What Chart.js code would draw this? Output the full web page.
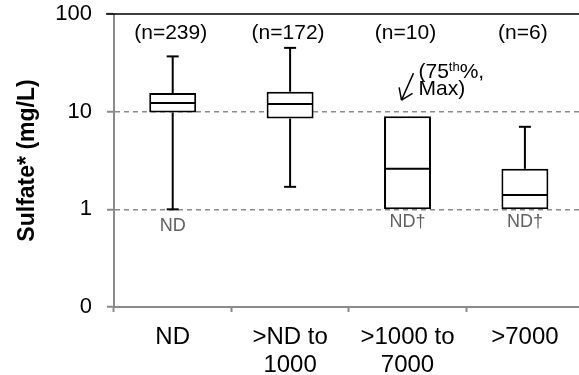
<!DOCTYPE html>
<html>
<head>
<meta charset="utf-8">
<script src="https://cdn.jsdelivr.net/npm/chart.js@4.4.1/dist/chart.umd.min.js"></script>
<style>
  html, body { margin: 0; padding: 0; background: #fff; overflow: hidden; }
</style>
</head>
<body>
<canvas id="sulfateChart" width="590" height="375"></canvas>
<script>
// Sulfate by methane group: box = 25th-75th percentile, whiskers = min/max
const categories = [["ND"], [">ND to", "1000"], [">1000 to", "7000"], [">7000"]];
const counts = [239, 172, 10, 6];
const mins = [1, 1.7, 1, 1];
const q1 = [9.8, 8.5, 1, 1];
const medians = [12.3, 12.0, 2.6, 1.4];
const q3 = [15.5, 16.0, 9, 2.6];
const maxs = [36.8, 45, 9, 7.0];
const ndLabels = ["ND", "", "ND†", "ND†"];
const yTicks = [0.1, 1, 10, 100];

const FONT = "'Liberation Sans', Arial, sans-serif";
const GRAY = "#8a8a8a";

// whiskers, medians and the text around the boxes
const boxParts = {
  id: "boxParts",
  afterDatasetsDraw(chart) {
    const { ctx, chartArea, scales: { x, y } } = chart;
    const meta = chart.getDatasetMeta(0);
    const line = (x1, y1, x2, y2) => {
      ctx.beginPath();
      ctx.moveTo(x1, y1);
      ctx.lineTo(x2, y2);
      ctx.stroke();
    };

    ctx.save();
    // solid line across the top at 100
    ctx.strokeStyle = "#000";
    ctx.lineWidth = 1.5;
    line(chartArea.left - 8, y.getPixelForValue(100), chart.width, y.getPixelForValue(100));

    ctx.lineWidth = 2;
    categories.forEach((c, i) => {
      const cx = x.getPixelForValue(i);
      const half = meta.data[i].width / 2;
      const cap = 6;
      const yMed = y.getPixelForValue(medians[i]);
      line(cx - half + 1, yMed, cx + half - 1, yMed);
      if (maxs[i] > q3[i]) {
        const yMax = y.getPixelForValue(maxs[i]);
        line(cx, y.getPixelForValue(q3[i]), cx, yMax);
        line(cx - cap, yMax, cx + cap, yMax);
      }
      if (mins[i] < q1[i]) {
        const yMin = y.getPixelForValue(mins[i]);
        line(cx, y.getPixelForValue(q1[i]), cx, yMin);
        line(cx - cap, yMin, cx + cap, yMin);
      }

      // sample counts
      ctx.fillStyle = "#000";
      ctx.font = "21px " + FONT;
      ctx.textAlign = "center";
      ctx.textBaseline = "middle";
      ctx.fillText("(n=" + counts[i] + ")", cx - 2, chartArea.top + 19);

      // non-detect labels under the minimum
      if (ndLabels[i]) {
        ctx.fillStyle = "#606060";
        ctx.font = "18px " + FONT;
        const off = ndLabels[i].endsWith("†") ? 13 : 17;
        ctx.fillText(ndLabels[i], cx, y.getPixelForValue(mins[i]) + off);
      }
    });

    // arrow note for the group where the 75th percentile equals the max
    const k = 2;
    const tipX = x.getPixelForValue(k) - 6;
    const tipY = y.getPixelForValue(maxs[k]) - 16;
    const tailX = tipX + 12, tailY = tipY - 27;
    ctx.strokeStyle = "#000";
    ctx.lineWidth = 1.5;
    line(tailX, tailY, tipX, tipY);
    const ang = Math.atan2(tailY - tipY, tailX - tipX);
    [0.6, -0.6].forEach(d => {
      line(tipX, tipY, tipX + 13 * Math.cos(ang + d), tipY + 13 * Math.sin(ang + d));
    });

    ctx.fillStyle = "#000";
    ctx.textAlign = "left";
    ctx.textBaseline = "middle";
    let tx = tipX + 17;
    const ty1 = tipY - 28, ty2 = tipY - 11;
    ctx.font = "21px " + FONT;
    ctx.fillText("(75", tx, ty1);
    tx += ctx.measureText("(75").width;
    ctx.font = "13px " + FONT;
    ctx.fillText("th", tx, ty1 - 5);
    tx += ctx.measureText("th").width;
    ctx.font = "21px " + FONT;
    ctx.fillText("%,", tx, ty1);
    ctx.fillText("Max)", tipX + 17, ty2);
    ctx.restore();
  }
};

new Chart(document.getElementById("sulfateChart"), {
  type: "bar",
  data: {
    labels: categories,
    datasets: [{
      data: q1.map((v, i) => [v, q3[i]]),
      backgroundColor: "#fff",
      borderColor: "#000",
      borderWidth: 2,
      borderSkipped: false,
      categoryPercentage: 1,
      barPercentage: 0.4
    }]
  },
  options: {
    responsive: false,
    animation: false,
    layout: { padding: { top: 14, right: 6.4, left: 0, bottom: 0 } },
    plugins: { legend: { display: false }, tooltip: { enabled: false } },
    scales: {
      x: {
        grid: {
          offset: true,
          drawOnChartArea: false,
          tickLength: 5,
          tickWidth: 2,
          tickColor: GRAY
        },
        border: { color: GRAY, width: 2 },
        ticks: {
          color: "#000",
          font: { family: FONT, size: 24, lineHeight: 1.15 },
          padding: 12,
          maxRotation: 0
        },
        afterFit(scale) { scale.height = 68; }
      },
      y: {
        type: "logarithmic",
        min: 0.1,
        max: 100,
        afterBuildTicks(scale) {
          scale.ticks = yTicks.map(v => ({ value: v, major: true }));
        },
        grid: {
          color: ctx => (ctx.tick && (ctx.tick.value === 0.1 || ctx.tick.value === 100)) ? "rgba(0,0,0,0)" : GRAY,
          lineWidth: 1.5,
          tickColor: GRAY,
          tickWidth: 2,
          tickLength: 7
        },
        border: { color: GRAY, width: 2, dash: [5, 4] },
        ticks: {
          color: "#000",
          font: { family: FONT, size: 22 },
          padding: 15,
          callback: v => v === 0.1 ? "0" : String(v)
        },
        title: {
          display: true,
          text: "Sulfate* (mg/L)",
          color: "#000",
          font: { family: FONT, size: 23, weight: "bold" },
          padding: { top: 14, bottom: 0 }
        },
        afterFit(scale) {
          scale.width = 114;
          scale.paddingTop = 0;
          scale.paddingBottom = 0;
        }
      }
    }
  },
  plugins: [boxParts]
});
</script>
</body>
</html>
